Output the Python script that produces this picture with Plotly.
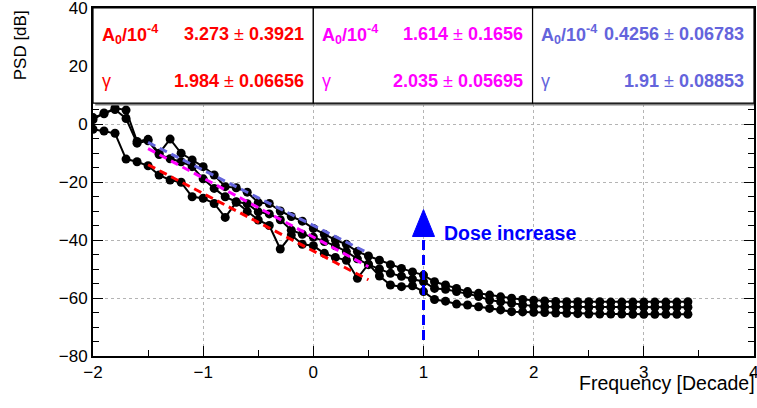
import plotly.graph_objects as go

# ---------------- data ----------------
freq_decade = [-2.0, -1.9, -1.8, -1.7, -1.6, -1.5, -1.4, -1.3, -1.2, -1.1,
               -1.0, -0.9, -0.8, -0.7, -0.6, -0.5, -0.4, -0.3, -0.2, -0.1,
               0.0, 0.1, 0.2, 0.3, 0.4, 0.5, 0.6, 0.7, 0.8, 0.9,
               1.0, 1.1, 1.2, 1.3, 1.4, 1.5, 1.6, 1.7, 1.8, 1.9,
               2.0, 2.1, 2.2, 2.3, 2.4, 2.5, 2.6, 2.7, 2.8, 2.9,
               3.0, 3.1, 3.2, 3.3, 3.4]

psd_run1 = [2.2, 3.5, 5.5, 4.8, -6.0, -5.3, -10.1, -5.2, -10.1, -12.4,
            -14.7, -17.6, -21.6, -22.0, -23.5, -27.1, -27.4, -30.0, -31.9, -33.5,
            -36.0, -38.0, -40.0, -41.5, -44.0, -45.5, -47.0, -48.5, -49.8, -51.0,
            -52.1, -54.4, -55.5, -56.7, -57.8, -58.4, -59.0, -59.6, -60.1, -60.5,
            -60.8, -61.0, -61.2, -61.3, -61.3, -61.3, -61.3, -61.4, -61.4, -61.4,
            -61.4, -61.4, -61.4, -61.4, -61.3]

psd_run2 = [1.5, 3.8, 5.0, 1.9, -6.6, -5.8, -10.5, -12.0, -13.0, -14.7,
            -18.9, -22.2, -25.1, -26.8, -27.5, -30.3, -31.0, -33.0, -36.6, -38.0,
            -39.0, -40.5, -42.0, -44.0, -46.5, -48.5, -50.0, -51.5, -52.5, -53.5,
            -54.4, -56.7, -57.0, -57.8, -58.5, -59.5, -60.7, -61.3, -61.8, -62.4,
            -62.8, -63.0, -63.0, -63.1, -63.1, -63.2, -63.2, -63.2, -63.2, -63.2,
            -63.2, -63.2, -63.2, -63.2, -63.2]

psd_run3 = [-1.8, -2.4, -3.2, -12.1, -13.0, -14.4, -17.6, -19.3, -20.1, -25.1,
            -25.6, -27.4, -32.2, -27.0, -30.2, -33.1, -35.0, -43.1, -38.3, -41.5,
            -42.0, -44.6, -46.0, -47.0, -53.2, -48.3, -52.4, -55.5, -56.1, -55.8,
            -57.8, -60.5, -61.1, -62.1, -62.4, -63.0, -63.6, -64.1, -64.7, -64.8,
            -64.9, -65.0, -65.2, -65.3, -65.4, -65.5, -65.5, -65.5, -65.5, -65.6,
            -65.6, -65.6, -65.6, -65.6, -65.6]

# fitted power laws: PSD[dB] = intercept + slope * decade  (slope = -10*gamma)
fit_colors = ["#ff0000", "#ff00ff", "#6464dc"]
fit_gamma = [1.984, 2.035, 1.91]
fit_intercept = [-43.8, -39.0, -35.0]
fit_lo, fit_hi = -1.5, 0.5

box_A0 = ["3.273", "1.614", "0.4256"]
box_A0_err = ["0.3921", "0.1656", "0.06783"]
box_gamma = ["1.984", "2.035", "1.91"]
box_gamma_err = ["0.06656", "0.05695", "0.08853"]
box_colors = ["#ff0000", "#ff00ff", "#6464dc"]

arrow_x = 1.0
arrow_y_base = -74.5
arrow_y_tip = -29.5
arrow_text = "Dose increase"

FONT = "Liberation Sans, Arial, Helvetica, sans-serif"

fig = go.Figure()

# data series
for ys in (psd_run1, psd_run2, psd_run3):
    fig.add_trace(go.Scatter(
        x=freq_decade, y=ys, mode="lines+markers",
        line=dict(color="black", width=2),
        marker=dict(color="black", size=9),
        showlegend=False, hoverinfo="skip"))

# fit lines
for g, b, c in zip(fit_gamma, fit_intercept, fit_colors):
    s = -10.0 * g
    fig.add_trace(go.Scatter(
        x=[fit_lo, fit_hi], y=[b + s * fit_lo, b + s * fit_hi], mode="lines",
        line=dict(color=c, width=3, dash="8px,5px"),
        showlegend=False, hoverinfo="skip"))

# arrow (dashed shaft + filled head)
head_h = 9.3
head_w = 0.1
fig.add_trace(go.Scatter(
    x=[arrow_x, arrow_x], y=[arrow_y_base, arrow_y_tip - head_h], mode="lines",
    line=dict(color="#0000ff", width=3, dash="10px,5px"),
    showlegend=False, hoverinfo="skip"))
fig.add_trace(go.Scatter(
    x=[arrow_x - head_w, arrow_x + head_w, arrow_x, arrow_x - head_w],
    y=[arrow_y_tip - head_h, arrow_y_tip - head_h, arrow_y_tip, arrow_y_tip - head_h],
    mode="lines", fill="toself", fillcolor="#0000ff",
    line=dict(color="#0000ff", width=1),
    showlegend=False, hoverinfo="skip"))
fig.add_annotation(x=arrow_x + 0.17, y=-37.6, text="<b>" + arrow_text + "</b>",
                   showarrow=False, xanchor="left", yanchor="middle",
                   font=dict(family=FONT, size=19.5, color="#0000ff"))

# stat boxes
box_edges = [(-2.0, 0.0), (0.0, 1.99), (1.99, 4.0)]
box_bottom, box_top = 7.2, 40.0
shapes = []
for (x0, x1) in box_edges:
    shapes.append(dict(type="rect", xref="x", yref="y", x0=x0 + 0.02, x1=x1 + 0.02,
                       y0=box_bottom - 0.8, y1=box_top - 0.8,
                       fillcolor="#808080", line=dict(width=0), layer="above"))
    shapes.append(dict(type="rect", xref="x", yref="y", x0=x0, x1=x1,
                       y0=box_bottom, y1=box_top,
                       fillcolor="white", line=dict(color="black", width=1.2), layer="above"))
fig.update_layout(shapes=shapes)

row1_y, row2_y = 31.0, 15.0
for i, (x0, x1) in enumerate(box_edges):
    c = box_colors[i]
    fig.add_annotation(x=x0 + 0.06, y=row1_y, text="<b>A<sub>0</sub>/10<sup>-4</sup></b>",
                       showarrow=False, xanchor="left", yanchor="middle",
                       font=dict(family=FONT, size=18, color=c))
    fig.add_annotation(x=x1 - 0.07, y=row1_y,
                       text="<b>" + box_A0[i] + "</b> \u00b1 <b>" + box_A0_err[i] + "</b>",
                       showarrow=False, xanchor="right", yanchor="middle",
                       font=dict(family=FONT, size=18, color=c))
    fig.add_annotation(x=x0 + 0.06, y=row2_y, text="\u03b3",
                       showarrow=False, xanchor="left", yanchor="middle",
                       font=dict(family=FONT, size=18, color=c))
    fig.add_annotation(x=x1 - 0.07, y=row2_y,
                       text="<b>" + box_gamma[i] + "</b> \u00b1 <b>" + box_gamma_err[i] + "</b>",
                       showarrow=False, xanchor="right", yanchor="middle",
                       font=dict(family=FONT, size=18, color=c))

# axis titles
fig.add_annotation(xref="paper", yref="paper", x=1.004, y=-0.04, text="Frequency [Decade]",
                   showarrow=False, xanchor="right", yanchor="top",
                   font=dict(family=FONT, size=19.5, color="black"))
fig.add_annotation(xref="paper", yref="paper", x=-0.11, y=1.0, text="PSD [dB]",
                   showarrow=False, xanchor="center", yanchor="top", textangle=-90,
                   font=dict(family=FONT, size=17, color="black"))

axis_common = dict(showline=True, linecolor="black", linewidth=2, mirror="allticks",
                   ticks="inside", tickcolor="black", tickwidth=1, automargin=False,
                   ticklabeloverflow="allow",
                   showgrid=True, gridcolor="#b4b4b4", griddash="dot", gridwidth=1,
                   zeroline=False, tickfont=dict(family=FONT, size=17, color="black"))

fig.update_xaxes(range=[-2, 4], dtick=1, ticklen=10,
                 minor=dict(dtick=0.5, ticks="inside", ticklen=6, tickcolor="black", showgrid=False),
                 **axis_common)
fig.update_yaxes(range=[-80, 40], dtick=20, ticklen=10,
                 minor=dict(dtick=5, ticks="inside", ticklen=6, tickcolor="black", showgrid=False),
                 **axis_common)

fig.update_layout(width=757, height=408,
                  margin=dict(l=93, r=3, t=8, b=52, autoexpand=False),
                  paper_bgcolor="white", plot_bgcolor="white",
                  font=dict(family=FONT, color="black"))

fig.write_html("out.html", config={"displayModeBar": False},
               post_script="document.body.style.margin='0';")
